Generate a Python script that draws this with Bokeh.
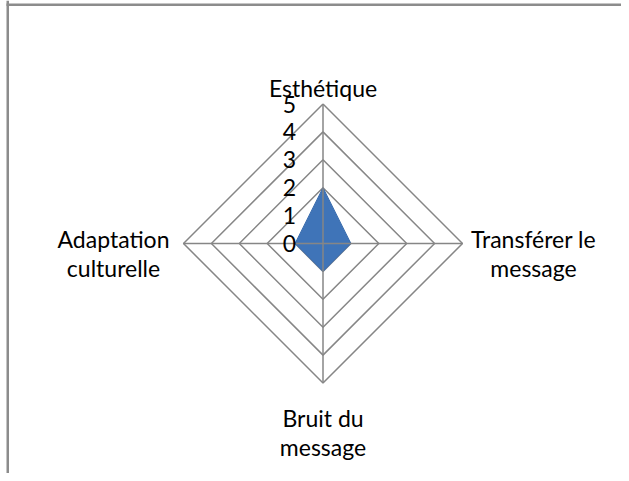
import math
from bokeh.plotting import figure
from bokeh.models import Range1d, BoxAnnotation
from bokeh.core.properties import value
from bokeh.embed import file_html
from bokeh.resources import INLINE

# ---- data ----
categories = ["Esthétique", "Transférer le\nmessage", "Bruit du\nmessage", "Adaptation\nculturelle"]
values = [2, 1, 1, 1]
levels = [0, 1, 2, 3, 4, 5]
tick_labels = ["0", "1", "2", "3", "4", "5"]
rmax = 5

FONT = "Lato"
FS = "23px"
GRID = "#868686"

W, H = 621, 473
PX = 27.9            # pixels per unit
CX, CY = 322.5, 243  # centre in canvas pixels

n = len(categories)
angles = [math.pi / 2 - 2 * math.pi * i / n for i in range(n)]

x0, x1 = -CX / PX, (W - CX) / PX
y0, y1 = -(H - CY) / PX, CY / PX

p = figure(width=W, height=H, output_backend="svg", toolbar_location=None,
           x_range=Range1d(x0, x1), y_range=Range1d(y0, y1),
           min_border=0, outline_line_color=None)
p.axis.visible = False
p.grid.visible = False
p.background_fill_color = "white"

# frame border (left and top)
p.add_layout(BoxAnnotation(left=x0 + 6 / PX, right=x0 + 8.5 / PX,
                           fill_color="#8c8c8c", fill_alpha=1, line_color=None))
p.add_layout(BoxAnnotation(left=x0 + 6 / PX, top=y1 - 3 / PX, bottom=y1 - 5.5 / PX,
                           fill_color="#8c8c8c", fill_alpha=1, line_color=None))

# rings
for lv in levels[1:]:
    xs = [lv * math.cos(a) for a in angles] + [lv * math.cos(angles[0])]
    ys = [lv * math.sin(a) for a in angles] + [lv * math.sin(angles[0])]
    p.line(xs, ys, line_color=GRID, line_width=1.5)

# data polygon
dx = [v * math.cos(a) for v, a in zip(values, angles)]
dy = [v * math.sin(a) for v, a in zip(values, angles)]
p.patch(dx, dy, fill_color="#3f74b8", line_color="#3a6cad", line_width=1)

# spokes
for a in angles:
    p.line([0, rmax * math.cos(a)], [0, rmax * math.sin(a)], line_color=GRID, line_width=1.5)

# tick labels
p.text(x=[-1] * len(levels), y=levels, text=tick_labels, text_align="right",
       text_baseline="middle", text_font=value(FONT), text_font_size=FS,
       text_color="black", x_offset=1)

# category labels
lh = 29
for cat, a in zip(categories, angles):
    lines = cat.split("\n")
    cx = rmax * math.cos(a)
    cy = rmax * math.sin(a)
    c = round(math.cos(a), 6)
    s = round(math.sin(a), 6)
    if s > 0:      # top
        xo, base = 0, -16 - (len(lines) - 1) * lh
    elif s < 0:    # bottom
        xo, base = 0, 35
    elif c > 0:    # right
        xo, base = 71, -5
    else:          # left
        xo, base = -70, -5
    for k, ln in enumerate(lines):
        p.text(x=[cx], y=[cy], text=[ln], text_align="center", text_baseline="alphabetic",
               x_offset=xo, y_offset=base + k * lh, text_font=value(FONT),
               text_font_size=FS, text_color="black")

open("out.html", "w").write(file_html(p, INLINE))
